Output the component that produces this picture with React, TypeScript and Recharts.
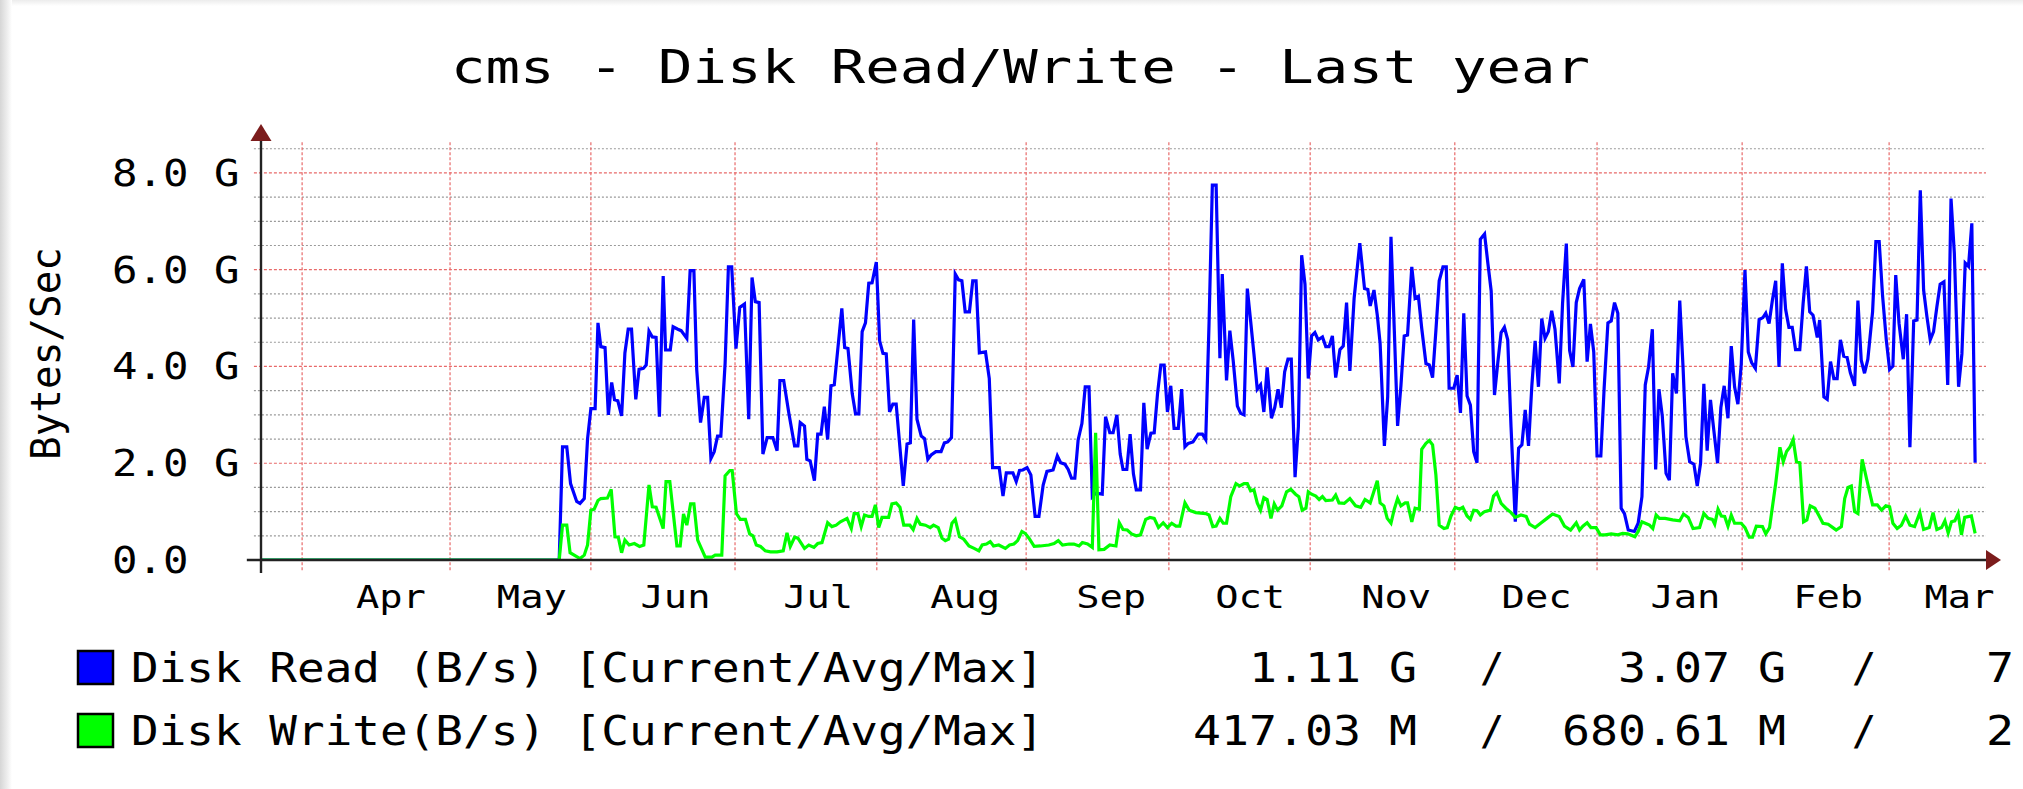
import React from 'react';
import { LineChart, Line, XAxis, YAxis, ReferenceLine } from 'recharts';

const FONT = '"DejaVu Sans Mono", monospace';

// x values are days counted from the left edge of the plot
const gridDays = [8.7, 40, 69.8, 100.3, 130.3, 161.9, 192.1, 222, 252.6, 282.7, 313.4, 344.5];
const labelDays = [27.5, 57.3, 87.7, 117.9, 149.0, 179.9, 209.3, 240.2, 269.9, 301.4, 331.6, 359.4];
const monthLabels = ['Apr', 'May', 'Jun', 'Jul', 'Aug', 'Sep', 'Oct', 'Nov', 'Dec', 'Jan', 'Feb', 'Mar'];

// y values in G (bytes/sec)
const yLabelTicks = [0, 2, 4, 6, 8];
const majorTicks = [2, 4, 6, 8];
const minorTicks = [0.5, 1, 1.5, 2.5, 3, 3.5, 4.5, 5, 5.5, 6.5, 7, 7.5, 8.5];

const readSamples: [number, number][] = [
  [0, 0], [63.1, 0], [63.8, 2.34], [64.7, 2.34], [65.5, 1.58], [66.8, 1.21], [67.5, 1.17], [68.4, 1.27], [69.1, 2.51], [69.8, 3.13],
  [70.7, 3.13], [71.3, 4.90], [71.9, 4.41], [72.8, 4.39], [73.5, 3.00], [74.2, 3.67], [74.8, 3.31], [75.5, 3.29], [76.3, 2.98], [77.0, 4.28],
  [77.7, 4.77], [78.4, 4.77], [79.3, 3.32], [80.0, 3.94], [80.9, 3.96], [81.5, 4.03], [82.1, 4.73], [82.8, 4.61], [83.6, 4.60], [84.3, 2.96],
  [85.1, 5.87], [85.6, 4.34], [86.6, 4.34], [87.2, 4.82], [88.2, 4.77], [88.9, 4.74], [90.1, 4.58], [90.8, 5.98], [91.6, 5.98], [92.2, 3.93],
  [93.0, 2.84], [93.8, 3.36], [94.5, 3.36], [95.2, 2.10], [95.9, 2.24], [96.6, 2.56], [97.3, 2.56], [98.2, 4.06], [98.9, 6.06], [99.6, 6.06],
  [100.5, 4.37], [101.3, 5.22], [102.3, 5.29], [103.2, 2.91], [103.9, 5.84], [104.6, 5.34], [105.4, 5.32], [106.2, 2.19], [107.1, 2.53], [108.3, 2.53],
  [109.2, 2.26], [109.8, 3.71], [110.6, 3.71], [111.7, 3.03], [112.9, 2.36], [113.6, 2.36], [114.1, 2.84], [115.0, 2.77], [115.5, 2.08], [116.2, 2.05],
  [117.1, 1.64], [117.8, 2.60], [118.5, 2.60], [119.2, 3.17], [119.9, 2.49], [120.6, 3.60], [121.3, 3.62], [122.1, 4.41], [122.9, 5.20], [123.5, 4.39],
  [124.2, 4.37], [125.1, 3.44], [125.8, 3.02], [126.5, 3.02], [127.2, 4.72], [127.9, 4.90], [128.6, 5.72], [129.3, 5.73], [130.2, 6.16], [130.9, 4.53],
  [131.6, 4.27], [132.3, 4.26], [133.0, 3.06], [133.7, 3.22], [134.4, 3.22], [135.9, 1.53], [136.7, 2.40], [137.4, 2.42], [138.1, 4.97], [138.8, 2.91],
  [139.7, 2.56], [140.4, 2.51], [141.1, 2.08], [141.8, 2.17], [142.8, 2.24], [143.9, 2.24], [144.6, 2.42], [145.3, 2.44], [146.1, 2.53], [146.9, 5.91],
  [147.6, 5.79], [148.3, 5.77], [149.0, 5.13], [149.9, 5.13], [150.6, 5.77], [151.3, 5.77], [152.0, 4.28], [153.3, 4.30], [154.1, 3.75], [154.8, 1.91],
  [156.2, 1.91], [157.0, 1.32], [157.7, 1.80], [159.1, 1.80], [159.8, 1.62], [160.5, 1.85], [161.2, 1.86], [162.1, 1.91], [162.9, 1.76], [163.8, 0.90],
  [164.6, 0.90], [165.5, 1.55], [166.3, 1.83], [167.6, 1.86], [168.5, 2.15], [169.2, 2.01], [170.1, 1.98], [170.8, 1.87], [171.5, 1.69], [172.2, 1.69],
  [172.9, 2.48], [173.7, 2.82], [174.4, 3.58], [175.2, 3.58], [175.9, 1.31], [176.6, 1.38], [178.0, 1.36], [178.7, 2.96], [179.6, 2.63], [180.3, 2.63],
  [181.1, 3.00], [181.8, 2.19], [182.4, 1.87], [183.2, 1.87], [183.9, 2.60], [184.6, 1.78], [185.2, 1.45], [186.1, 1.45], [186.8, 3.25], [187.5, 2.29],
  [188.3, 2.62], [189.0, 2.63], [189.7, 3.44], [190.4, 4.03], [191.1, 4.03], [191.8, 3.06], [192.5, 3.60], [193.2, 2.72], [194.1, 2.72], [194.8, 3.53],
  [195.5, 2.34], [196.2, 2.41], [197.2, 2.44], [198.3, 2.60], [199.2, 2.60], [199.9, 2.49], [200.6, 4.89], [201.3, 7.75], [202.1, 7.75], [202.9, 4.17],
  [203.4, 5.91], [204.3, 3.71], [205.0, 4.74], [205.7, 4.13], [206.6, 3.18], [207.3, 3.03], [208.0, 3.00], [208.7, 5.61], [209.4, 4.94], [210.1, 4.26],
  [210.8, 3.53], [211.5, 3.62], [212.2, 3.06], [212.9, 3.98], [213.8, 2.93], [214.5, 3.15], [215.2, 3.53], [215.9, 3.15], [216.6, 3.89], [217.3, 4.15],
  [218.0, 4.15], [218.8, 1.71], [219.5, 2.75], [220.2, 6.30], [220.9, 5.70], [221.6, 3.75], [222.3, 4.63], [223.0, 4.70], [223.7, 4.55], [224.6, 4.61],
  [225.3, 4.41], [226.0, 4.41], [226.7, 4.63], [227.4, 3.77], [228.3, 4.35], [229.0, 4.42], [229.7, 5.32], [230.4, 3.91], [231.3, 5.41], [232.5, 6.55],
  [233.5, 5.61], [234.2, 5.59], [234.7, 5.25], [235.5, 5.58], [236.2, 5.06], [236.8, 4.48], [237.7, 2.36], [238.4, 3.37], [239.1, 6.68], [239.8, 4.75],
  [240.5, 2.77], [241.2, 3.60], [241.9, 4.63], [242.6, 4.65], [243.5, 6.06], [244.2, 5.41], [244.9, 5.45], [245.6, 4.79], [246.5, 4.06], [247.2, 4.03],
  [247.9, 3.77], [248.6, 4.74], [249.3, 5.77], [250.1, 6.06], [250.8, 6.06], [251.4, 3.55], [252.4, 3.55], [253.1, 3.82], [253.8, 3.04], [254.5, 5.10],
  [255.2, 3.39], [255.9, 3.20], [256.6, 2.24], [257.3, 2.01], [258.0, 6.63], [258.9, 6.74], [259.6, 6.13], [260.3, 5.56], [261.0, 3.41], [261.7, 4.08],
  [262.4, 4.70], [263.1, 4.81], [263.8, 4.55], [264.5, 2.75], [265.4, 0.79], [266.1, 2.31], [266.8, 2.38], [267.5, 3.10], [268.2, 2.36], [268.9, 3.60],
  [269.6, 4.53], [270.3, 3.58], [271.0, 4.99], [271.7, 4.58], [272.4, 4.72], [273.1, 5.15], [273.8, 4.77], [274.7, 3.65], [275.4, 5.30], [276.2, 6.54],
  [276.9, 4.33], [277.6, 3.99], [278.3, 5.32], [279.0, 5.61], [279.9, 5.80], [280.6, 4.10], [281.3, 4.88], [282.0, 4.30], [282.7, 2.15], [283.5, 2.15],
  [284.2, 3.55], [285.0, 4.90], [285.7, 4.94], [286.4, 5.32], [287.1, 5.10], [287.8, 1.07], [288.5, 0.96], [289.3, 0.62], [290.6, 0.59], [291.4, 0.76],
  [292.2, 1.31], [292.9, 3.62], [293.6, 3.99], [294.4, 4.77], [295.1, 1.87], [295.8, 3.53], [296.5, 2.98], [297.3, 1.79], [298.0, 1.65], [298.7, 3.86],
  [299.5, 3.44], [300.2, 5.36], [300.9, 3.98], [301.5, 2.55], [302.3, 2.03], [303.2, 1.98], [303.9, 1.53], [304.6, 2.00], [305.3, 3.64], [306.0, 2.26],
  [306.7, 3.31], [307.4, 2.69], [308.2, 2.00], [308.9, 3.15], [309.6, 3.60], [310.4, 2.93], [311.1, 4.42], [311.8, 3.58], [312.5, 3.22], [313.2, 4.03],
  [314.0, 5.99], [314.7, 4.30], [315.4, 4.08], [316.2, 3.96], [317.0, 4.97], [317.8, 5.01], [318.4, 5.10], [319.1, 4.89], [319.8, 5.37], [320.5, 5.77],
  [321.2, 3.99], [321.9, 6.13], [322.6, 5.18], [323.3, 4.81], [324.0, 4.81], [324.7, 4.35], [325.6, 4.35], [326.3, 5.30], [327.0, 6.07], [327.7, 5.13],
  [328.4, 5.06], [329.3, 4.60], [329.8, 4.96], [330.7, 3.37], [331.4, 3.32], [332.1, 4.10], [332.8, 3.75], [333.5, 3.75], [334.2, 4.55], [334.9, 4.21],
  [335.6, 4.19], [336.3, 3.87], [337.2, 3.60], [337.9, 5.36], [338.6, 4.13], [339.3, 3.86], [340.0, 4.15], [341.0, 5.13], [341.7, 6.58], [342.4, 6.58],
  [343.1, 5.48], [343.9, 4.55], [344.6, 3.94], [345.3, 4.01], [345.9, 5.89], [346.6, 4.89], [347.5, 4.15], [348.2, 5.08], [348.9, 2.33], [349.7, 4.94],
  [350.4, 4.96], [351.1, 7.64], [351.8, 5.58], [352.5, 5.03], [353.2, 4.55], [353.9, 4.72], [354.6, 5.23], [355.3, 5.70], [356.1, 5.75], [356.9, 3.62],
  [357.6, 7.47], [358.3, 6.34], [359.2, 3.58], [359.9, 4.26], [360.6, 6.14], [361.3, 6.07], [362.0, 6.96], [362.7, 2.01],
];

const writeSamples: [number, number][] = [
  [0, 0], [63.1, 0], [63.8, 0.72], [64.7, 0.72], [65.4, 0.15], [66.8, 0.07], [67.5, 0.03], [68.4, 0.10], [69.1, 0.31], [69.8, 1.03],
  [70.5, 1.05], [71.3, 1.23], [71.9, 1.27], [73.3, 1.28], [74.1, 1.46], [74.9, 0.48], [75.6, 0.47], [76.3, 0.15], [77.0, 0.41], [77.9, 0.31],
  [79.0, 0.34], [80.1, 0.28], [81.0, 0.31], [82.1, 1.55], [82.8, 1.10], [83.6, 1.09], [85.1, 0.65], [85.7, 1.62], [86.5, 1.62], [88.0, 0.29],
  [88.7, 0.29], [89.4, 0.95], [90.1, 0.72], [90.9, 1.16], [91.6, 1.16], [92.4, 0.41], [94.0, 0.06], [95.4, 0.06], [96.1, 0.10], [97.5, 0.10],
  [98.2, 1.74], [99.2, 1.85], [99.7, 1.85], [100.6, 0.96], [101.4, 0.84], [102.5, 0.84], [103.4, 0.54], [104.1, 0.50], [104.8, 0.31], [105.7, 0.28],
  [106.7, 0.19], [107.8, 0.17], [109.2, 0.17], [110.5, 0.19], [111.3, 0.56], [112.0, 0.28], [112.9, 0.47], [113.6, 0.45], [115.0, 0.24], [115.9, 0.31],
  [117.0, 0.26], [117.8, 0.34], [118.7, 0.36], [119.9, 0.77], [120.8, 0.69], [121.7, 0.72], [122.6, 0.79], [124.0, 0.86], [124.9, 0.65], [125.5, 0.96],
  [126.3, 0.96], [127.0, 0.69], [127.7, 0.93], [128.6, 0.90], [129.3, 0.90], [130.0, 1.14], [130.7, 0.67], [131.4, 0.88], [132.8, 0.88], [133.5, 1.16],
  [134.4, 1.18], [135.2, 1.09], [136.0, 0.72], [137.3, 0.72], [138.0, 0.63], [138.8, 0.86], [139.5, 0.74], [140.6, 0.72], [141.6, 0.67], [142.3, 0.72],
  [143.3, 0.67], [144.1, 0.45], [144.8, 0.40], [145.5, 0.43], [146.2, 0.76], [146.9, 0.84], [147.8, 0.48], [148.7, 0.43], [149.8, 0.29], [150.9, 0.24],
  [151.9, 0.19], [152.6, 0.31], [153.5, 0.33], [154.3, 0.38], [155.0, 0.29], [156.1, 0.31], [157.5, 0.24], [158.4, 0.31], [159.3, 0.33], [160.1, 0.40],
  [161.0, 0.59], [161.7, 0.55], [162.5, 0.45], [163.6, 0.28], [164.9, 0.29], [166.7, 0.31], [167.8, 0.34], [168.7, 0.40], [169.6, 0.31], [171.0, 0.33],
  [172.0, 0.33], [173.1, 0.29], [173.8, 0.36], [174.9, 0.33], [175.9, 0.26], [176.6, 2.63], [177.3, 0.21], [178.4, 0.22], [179.6, 0.31], [180.9, 0.29],
  [181.6, 0.77], [182.4, 0.63], [183.3, 0.62], [184.2, 0.54], [185.2, 0.50], [186.1, 0.52], [187.2, 0.84], [188.1, 0.88], [189.0, 0.86], [189.9, 0.67],
  [190.9, 0.77], [191.8, 0.67], [192.7, 0.76], [193.6, 0.70], [194.4, 0.70], [195.5, 1.18], [196.4, 1.03], [197.8, 0.98], [199.9, 0.96], [200.6, 0.93],
  [201.4, 0.69], [202.1, 0.70], [202.9, 0.86], [203.6, 0.76], [204.3, 0.76], [205.2, 1.31], [206.3, 1.58], [207.1, 1.53], [208.0, 1.58], [208.7, 1.58],
  [209.4, 1.43], [210.1, 1.45], [210.8, 1.18], [211.5, 1.03], [212.2, 1.29], [212.9, 1.25], [213.7, 0.86], [214.4, 1.16], [215.1, 1.03], [216.0, 1.12],
  [217.0, 1.41], [217.9, 1.46], [218.9, 1.36], [219.6, 1.31], [220.3, 1.03], [221.1, 1.07], [221.6, 1.41], [222.3, 1.36], [223.2, 1.32], [223.9, 1.25],
  [224.6, 1.31], [225.3, 1.23], [226.7, 1.24], [227.4, 1.34], [228.1, 1.18], [229.2, 1.17], [230.4, 1.27], [231.6, 1.12], [232.7, 1.09], [233.6, 1.25],
  [234.7, 1.18], [236.2, 1.64], [236.8, 1.18], [237.6, 1.12], [238.3, 0.86], [239.1, 0.76], [239.8, 1.05], [240.5, 1.27], [241.2, 1.12], [242.1, 1.18],
  [242.6, 1.18], [243.5, 0.79], [244.2, 1.07], [245.1, 1.05], [245.6, 2.29], [246.5, 2.41], [247.2, 2.47], [247.9, 2.38], [248.6, 1.76], [249.3, 0.72],
  [250.3, 0.65], [251.0, 0.67], [251.8, 0.91], [252.7, 1.09], [253.6, 1.05], [254.3, 1.09], [255.2, 0.91], [255.9, 0.84], [256.6, 1.03], [257.3, 1.02],
  [258.0, 0.93], [258.9, 1.00], [260.1, 1.03], [260.8, 1.32], [261.5, 1.39], [262.4, 1.17], [263.4, 1.07], [264.5, 0.98], [265.4, 0.88], [266.6, 0.93],
  [267.7, 0.90], [268.4, 0.74], [269.6, 0.67], [270.9, 0.77], [272.1, 0.86], [273.3, 0.95], [274.7, 0.90], [275.8, 0.70], [277.1, 0.62], [278.3, 0.77],
  [279.0, 0.62], [279.7, 0.70], [280.6, 0.77], [281.4, 0.67], [282.5, 0.67], [283.4, 0.52], [284.4, 0.52], [285.7, 0.54], [287.1, 0.52], [288.1, 0.55],
  [289.2, 0.54], [290.7, 0.48], [291.4, 0.59], [292.2, 0.79], [292.9, 0.76], [293.8, 0.72], [294.5, 0.65], [295.2, 0.93], [295.9, 0.86], [297.1, 0.86],
  [298.7, 0.83], [300.2, 0.81], [301.0, 0.95], [302.0, 0.88], [303.0, 0.65], [304.4, 0.67], [305.3, 0.96], [306.2, 0.86], [307.1, 0.84], [307.6, 0.74],
  [308.3, 1.05], [309.0, 0.91], [309.7, 0.90], [310.4, 0.70], [311.1, 0.93], [311.8, 0.76], [313.2, 0.76], [314.0, 0.67], [314.9, 0.47], [315.6, 0.47],
  [316.4, 0.70], [317.7, 0.69], [318.4, 0.54], [319.2, 0.67], [320.5, 1.58], [321.4, 2.33], [322.1, 2.03], [322.8, 2.24], [323.5, 2.33], [324.2, 2.49],
  [324.9, 2.03], [325.6, 2.01], [326.4, 0.79], [327.1, 0.83], [327.8, 1.12], [328.8, 1.07], [329.7, 0.91], [330.5, 0.76], [331.6, 0.74], [332.6, 0.67],
  [333.3, 0.62], [334.4, 0.69], [335.1, 1.27], [335.8, 1.50], [336.5, 1.53], [337.2, 1.00], [337.9, 0.96], [338.8, 2.08], [339.7, 1.69], [341.0, 1.14],
  [342.0, 1.14], [342.9, 1.03], [343.8, 1.12], [344.6, 1.10], [345.3, 0.76], [346.2, 0.65], [347.1, 0.72], [348.0, 0.91], [348.9, 0.72], [349.9, 0.69],
  [351.0, 0.98], [351.8, 0.63], [353.0, 0.67], [353.8, 0.98], [354.6, 0.63], [355.6, 0.67], [356.3, 0.81], [357.0, 0.56], [357.7, 0.79], [358.4, 0.81],
  [359.1, 0.96], [359.8, 0.52], [360.5, 0.88], [361.9, 0.91], [362.7, 0.55],
];

// the max column is cut by the right edge of the reference image; only its first digit shows
const legendRows = [
  { label: 'Disk Read (B/s) [Current/Avg/Max]', color: '#0000ff', current: '1.11 G', avg: '3.07 G', max: '7' },
  { label: 'Disk Write(B/s) [Current/Avg/Max]', color: '#00ff00', current: '417.03 M', avg: '680.61 M', max: '2' },
];

const readData = readSamples.map(([day, v]) => ({ day, v }));
const writeData = writeSamples.map(([day, v]) => ({ day, v }));

const XTick = (props: any) => {
  const { x, payload } = props;
  const i = labelDays.indexOf(payload.value);
  return (
    <text x={x} y={608} textAnchor="middle" fontFamily={FONT} fontSize={32} fill="#000"
      textLength={70} lengthAdjust="spacingAndGlyphs">
      {monthLabels[i]}
    </text>
  );
};

const YTick = (props: any) => {
  const { y, payload } = props;
  const v = payload.value;
  const label = v === 0 ? '0.0' : `${v.toFixed(1)} G`;
  return (
    <text x={112} y={y + 13} fontFamily={FONT} fontSize={37} fill="#000"
      textLength={label.length * 25.5} lengthAdjust="spacingAndGlyphs">
      {label}
    </text>
  );
};

const Overlay = () => (
  <svg width={2023} height={789} style={{ position: 'absolute', left: 0, top: 0, pointerEvents: 'none' }}>
    <text x={451} y={83} fontFamily={FONT} fontSize={46} fill="#000" textLength={1139} lengthAdjust="spacingAndGlyphs">
      cms - Disk Read/Write - Last year
    </text>
    <text transform="translate(60,460) rotate(-90)" fontFamily={FONT} fontSize={40} fill="#000"
      textLength={213} lengthAdjust="spacingAndGlyphs">
      Bytes/Sec
    </text>
    <polygon points="261,124 250.5,141 271.5,141" fill="#7b1c1c" />
    <polygon points="2001,560 1986,550 1986,570" fill="#7b1c1c" />
    {legendRows.map((r, i) => {
      const base = i === 0 ? 682 : 745;
      return (
        <g key={r.label}>
          <rect x={78} y={base - 31} width={35} height={33} fill={r.color} stroke="#000" strokeWidth={2.5} />
          <text x={131} y={base} fontFamily={FONT} fontSize={41} fill="#000" textLength={913} lengthAdjust="spacingAndGlyphs">
            {r.label}
          </text>
          <text x={1417} y={base} textAnchor="end" fontFamily={FONT} fontSize={41} fill="#000"
            textLength={r.current.length * 28} lengthAdjust="spacingAndGlyphs">{r.current}</text>
          <text x={1492} y={base} textAnchor="middle" fontFamily={FONT} fontSize={41} fill="#000">/</text>
          <text x={1786} y={base} textAnchor="end" fontFamily={FONT} fontSize={41} fill="#000"
            textLength={r.avg.length * 28} lengthAdjust="spacingAndGlyphs">{r.avg}</text>
          <text x={1864} y={base} textAnchor="middle" fontFamily={FONT} fontSize={41} fill="#000">/</text>
          <text x={1986} y={base} fontFamily={FONT} fontSize={41} fill="#000"
            textLength={r.max.length * 28} lengthAdjust="spacingAndGlyphs">{r.max}</text>
        </g>
      );
    })}
  </svg>
);

export default function App() {
  return (
    <div style={{ position: 'relative', width: 2023, height: 789, overflow: 'hidden', background: '#fff' }}>
      <style>{'body{margin:0}'}</style>
      <div style={{ position: 'absolute', left: 0, top: 0, width: 2023, height: 6, background: 'linear-gradient(to bottom, #ececec, #fff)' }} />
      <div style={{ position: 'absolute', left: 0, top: 0, width: 12, height: 789, background: 'linear-gradient(to right, #d6d6d6, #eeeeee 60%, #fff)' }} />
      <div style={{ position: 'absolute', left: 0, top: 0 }}>
        <LineChart width={2023} height={789} margin={{ top: 141, right: 37, bottom: 169, left: 0 }}>
          <XAxis type="number" dataKey="day" domain={[0, 365]} ticks={labelDays} interval={0}
            tickLine={false} axisLine={false} tickSize={0} tickMargin={0} height={60}
            tick={<XTick />} allowDataOverflow />
          <YAxis type="number" domain={[0, 8.66]} ticks={yLabelTicks} interval={0} width={261}
            axisLine={false} tickLine={false} tick={<YTick />} allowDataOverflow />
          {minorTicks.map((v) => (
            <ReferenceLine key={'mi' + v} segment={[{ x: -1.5, y: v }, { x: 365, y: v }]}
              stroke="#9a9a9a" strokeWidth={1.2} strokeDasharray="2 2" ifOverflow="visible" />
          ))}
          {majorTicks.map((v) => (
            <ReferenceLine key={'ma' + v} segment={[{ x: -1.5, y: v }, { x: 365, y: v }]}
              stroke="#e86a6a" strokeWidth={1.2} strokeDasharray="3 2" ifOverflow="visible" />
          ))}
          {gridDays.map((d) => (
            <ReferenceLine key={'g' + d} segment={[{ x: d, y: -0.21 }, { x: d, y: 8.66 }]}
              stroke="#e86a6a" strokeWidth={1.2} strokeDasharray="3 2" ifOverflow="visible" />
          ))}
          <Line data={readData} dataKey="v" type="linear" stroke="#0000ff" strokeWidth={3.2}
            dot={false} activeDot={false} isAnimationActive={false} />
          <Line data={writeData} dataKey="v" type="linear" stroke="#00ff00" strokeWidth={3.2}
            dot={false} activeDot={false} isAnimationActive={false} />
          <ReferenceLine segment={[{ x: -3, y: 0 }, { x: 365.5, y: 0 }]} stroke="#222" strokeWidth={2.4} ifOverflow="visible" />
          <ReferenceLine segment={[{ x: 0, y: -0.27 }, { x: 0, y: 8.66 }]} stroke="#222" strokeWidth={2.4} ifOverflow="visible" />
        </LineChart>
      </div>
      <Overlay />
    </div>
  );
}
